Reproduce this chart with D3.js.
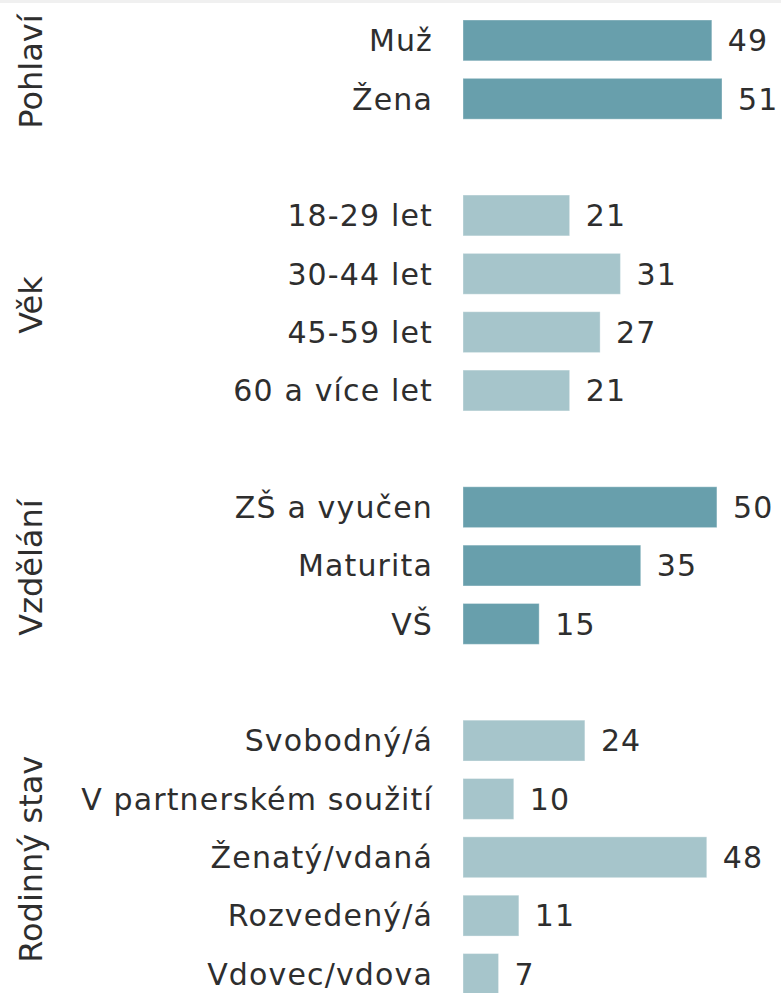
<!DOCTYPE html>
<html>
<head>
<meta charset="utf-8">
<script src="https://cdn.jsdelivr.net/npm/d3@7"></script>
<style>
  body { margin: 0; background: #fff; }
  svg text { fill: #2e2e2e; }
</style>
</head>
<body>
<div id="chart"></div>
<script>
// data
const groups = ["Pohlaví", "Věk", "Vzdělání", "Rodinný stav"];
const categories = [
    ["Muž", "Žena"],
    ["18-29 let", "30-44 let", "45-59 let", "60 a více let"],
    ["ZŠ a vyučen", "Maturita", "VŠ"],
    ["Svobodný/á", "V partnerském soužití", "Ženatý/vdaná", "Rozvedený/á", "Vdovec/vdova"]
];
const values = [
    [49, 51],
    [21, 31, 27, 21],
    [50, 35, 15],
    [24, 10, 48, 11, 7]
];
const groupColors = ["#689fac", "#a6c5cb", "#689fac", "#a6c5cb"];

const width = 781, height = 993;

let svg = d3.select("#chart").append("svg")
    .attr("width", width)
    .attr("height", height);

// thin grey strip at the very top
svg.append("rect")
    .attr("x", 0).attr("y", 0)
    .attr("width", width).attr("height", 3)
    .attr("fill", "#f0f0f0");

// flatten into rows, with an empty spacer row between groups
let rows = [];
groups.forEach((g, gi) => {
    if (gi > 0) rows.push({ key: "gap" + gi, spacer: true });
    categories[gi].forEach((c, ci) => {
        rows.push({ key: c, label: c, value: values[gi][ci], group: gi });
    });
});

let y = d3.scaleBand()
    .domain(rows.map(d => d.key))
    .range([20, 994.4])
    .paddingInner(0.3)
    .paddingOuter(0);

let x = d3.scaleLinear()
    .domain([0, 51])
    .range([463, 722]);

let bars = rows.filter(d => !d.spacer);

svg.selectAll(".bar")
    .data(bars)
    .enter().append("rect")
    .attr("class", "bar")
    .attr("x", x(0))
    .attr("y", d => y(d.key))
    .attr("width", d => x(d.value) - x(0))
    .attr("height", y.bandwidth())
    .attr("fill", d => groupColors[d.group])
    .attr("stroke", "#ffffff")
    .attr("stroke-opacity", 0.35)
    .attr("stroke-width", 1);

// category labels
svg.selectAll(".cat")
    .data(bars)
    .enter().append("text")
    .attr("class", "cat")
    .attr("x", 433)
    .attr("y", d => y(d.key) + y.bandwidth() / 2)
    .attr("dy", "0.36em")
    .attr("text-anchor", "end")
    .style("font-family", "'DejaVu Sans', Verdana, sans-serif")
    .style("font-size", "30px")
    .style("letter-spacing", "1.15px")
    .text(d => d.label);

// value labels
svg.selectAll(".val")
    .data(bars)
    .enter().append("text")
    .attr("class", "val")
    .attr("x", d => x(d.value) + 16)
    .attr("y", d => y(d.key) + y.bandwidth() / 2)
    .attr("dy", "0.36em")
    .style("font-family", "'DejaVu Sans', Verdana, sans-serif")
    .style("font-size", "30px")
    .style("letter-spacing", "1.15px")
    .text(d => d.value);

// rotated group labels
svg.selectAll(".grp")
    .data(groups)
    .enter().append("text")
    .attr("class", "grp")
    .attr("transform", (g, gi) => {
        let cats = categories[gi];
        let top = y(cats[0]);
        let bottom = y(cats[cats.length - 1]) + y.bandwidth();
        return "translate(42," + ((top + bottom) / 2 + 2) + ") rotate(-90)";
    })
    .attr("text-anchor", "middle")
    .style("font-family", "'DejaVu Sans', Verdana, sans-serif")
    .style("font-size", "32px")
    .text(g => g);
</script>
</body>
</html>
